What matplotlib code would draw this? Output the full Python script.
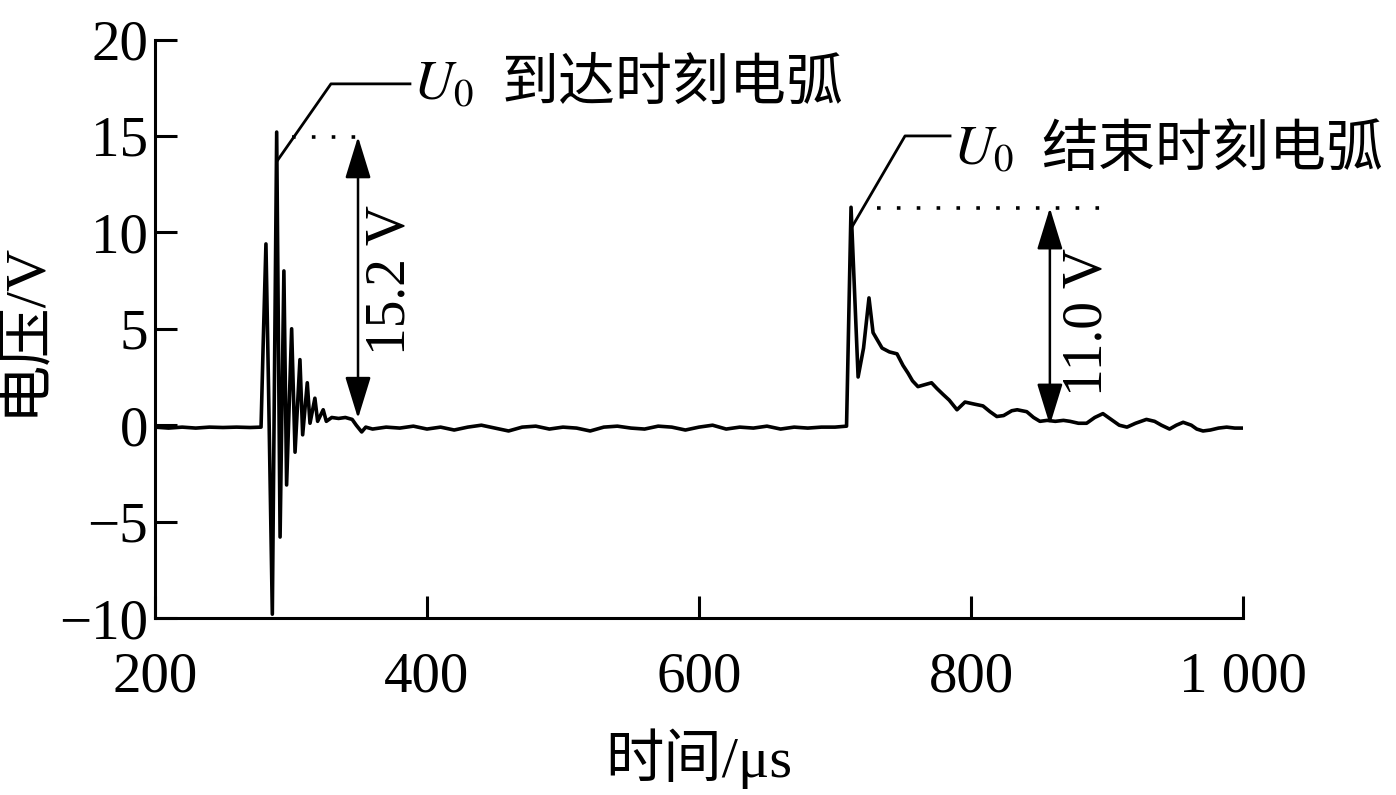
import numpy as np
import matplotlib.pyplot as plt

plt.rcParams['mathtext.fontset'] = 'stix'
FAM = ['Liberation Serif', 'Noto Sans CJK SC']

# waveform (time in us, voltage in V)
t_arrive = [200, 210, 220, 230, 240, 250, 260, 270, 278, 279.5, 281.6, 283.5,
            286.3, 289.5, 292, 294.8, 296.8, 300.5, 303, 306.6, 308.6, 312, 314,
            317.6, 319.6, 323.7, 326, 330, 335, 340, 345, 348, 352, 355]
v_arrive = [-0.1, -0.15, -0.1, -0.15, -0.1, -0.12, -0.1, -0.12, -0.1, 4.0, 9.4, 2.0,
            -9.8, 15.2, -5.8, 8.0, -3.1, 5.0, -1.4, 3.4, -0.5, 2.2, 0.1,
            1.4, 0.2, 0.8, 0.2, 0.4, 0.35, 0.4, 0.3, 0.0, -0.35, -0.1]

t_base = list(range(360, 710, 10))
v_base = [-0.2, -0.1, -0.15, -0.05, -0.2, -0.1, -0.25, -0.1, 0.0, -0.15, -0.3, -0.1,
          -0.05, -0.2, -0.1, -0.15, -0.3, -0.1, -0.05, -0.15, -0.2, -0.05, -0.1, -0.25,
          -0.1, 0.0, -0.2, -0.1, -0.15, -0.05, -0.2, -0.1, -0.15, -0.1, -0.1]

t_end = [708.5, 711.8, 717, 721, 725, 728, 734.6, 740, 745.6, 750, 753.7, 757, 761,
         766, 771, 775, 779.4, 784, 789.7, 795.6, 802, 808.8, 814, 819, 824, 830, 834,
         841, 846, 850.7, 856, 862, 868, 872.8, 879, 885, 891, 897, 903, 909, 914.7,
         921, 929, 935, 940, 946, 951, 956, 962, 966, 970.6, 976, 982, 988, 994, 1000]
v_end = [-0.05, 11.3, 2.5, 4.0, 6.6, 4.8, 4.0, 3.8, 3.7, 3.1, 2.7, 2.3, 2.0,
         2.1, 2.2, 1.9, 1.6, 1.3, 0.8, 1.2, 1.1, 1.0, 0.7, 0.45, 0.5, 0.75, 0.8,
         0.7, 0.4, 0.2, 0.25, 0.2, 0.25, 0.2, 0.1, 0.1, 0.4, 0.6, 0.3, 0.0, -0.1,
         0.1, 0.3, 0.2, 0.0, -0.2, 0.0, 0.15, 0.0, -0.2, -0.3, -0.25, -0.15, -0.1, -0.15, -0.15]

t = t_arrive + t_base + t_end
v = v_arrive + v_base + v_end

xticks = [200, 400, 600, 800, 1000]
xticklabels = ['200', '400', '600', '800', '1 000']
yticks = [-10, -5, 0, 5, 10, 15, 20]

# annotations
lead1_x, lead1_y = [290.4, 329.4, 387.5], [13.76, 17.7, 17.7]
lead2_x, lead2_y = [712.5, 751.5, 784.6], [10.28, 15.0, 15.0]
dot1_x, dot1_y = [300.7, 358], 14.96
dot2_x, dot2_y = [730.9, 894.9], 11.27
arr1_x, arr1_y = 349.3, (14.96, 0.35)
arr2_x, arr2_y = 858, (11.27, 0.0)

fig = plt.figure(figsize=(13.96, 7.95), dpi=100)
ax = fig.add_axes([0.111, 0.2226, 0.7794, 0.7277])

ax.plot(t, v, color='black', lw=2.6)

ax.plot(lead1_x, lead1_y, color='black', lw=2.0)
ax.plot(lead2_x, lead2_y, color='black', lw=2.0)
ax.plot(dot1_x, [dot1_y, dot1_y], color='black', lw=2.6, linestyle=(0, (1, 4.5)))
ax.plot(dot2_x, [dot2_y, dot2_y], color='black', lw=2.6, linestyle=(0, (1, 4.5)))

for ax_x, (ytop, ybot) in [(arr1_x, arr1_y), (arr2_x, arr2_y)]:
    ax.annotate('', xy=(ax_x, ytop), xytext=(ax_x, ybot),
                arrowprops=dict(arrowstyle='<|-|>,head_length=1.3,head_width=0.4',
                                color='black', lw=1.8, mutation_scale=20,
                                shrinkA=0, shrinkB=0))

# U0 labels: math part and Chinese part as separate texts
ax.text(389.7, 17.7, '$U_0$', fontsize=40, ha='left', va='center')
ax.text(455, 17.7, '到达时刻电弧', family='Noto Sans CJK SC', fontsize=41,
        ha='left', va='center')
ax.text(786.8, 14.3, '$U_0$', fontsize=40, ha='left', va='center')
ax.text(852, 14.3, '结束时刻电弧', family='Noto Sans CJK SC', fontsize=41,
        ha='left', va='center')
ax.text(373.5, 7.54, '15.2 V', family=FAM, fontsize=40, rotation=90,
        ha='center', va='center')
ax.text(886, 5.36, '11.0 V', family=FAM, fontsize=40, rotation=90,
        ha='center', va='center')

ax.set_xlim(200, 1000)
ax.set_ylim(-10, 20)
ax.set_xticks(xticks)
ax.set_xticklabels(xticklabels)
ax.set_yticks(yticks)
for s in ['top', 'right']:
    ax.spines[s].set_visible(False)
for s in ['left', 'bottom']:
    ax.spines[s].set_linewidth(2.2)
ax.tick_params(direction='in', length=16, width=2.2, labelsize=41)
ax.tick_params(axis='x', pad=24)
ax.tick_params(axis='y', pad=5)
for lab in ax.get_xticklabels() + ax.get_yticklabels():
    lab.set_family(FAM)

ax.set_xlabel('时间/μs', family=FAM, fontsize=42, labelpad=18)
ax.set_ylabel('电压/V', family=FAM, fontsize=42, labelpad=6)

plt.savefig('out.png', dpi=100)
plt.close()
